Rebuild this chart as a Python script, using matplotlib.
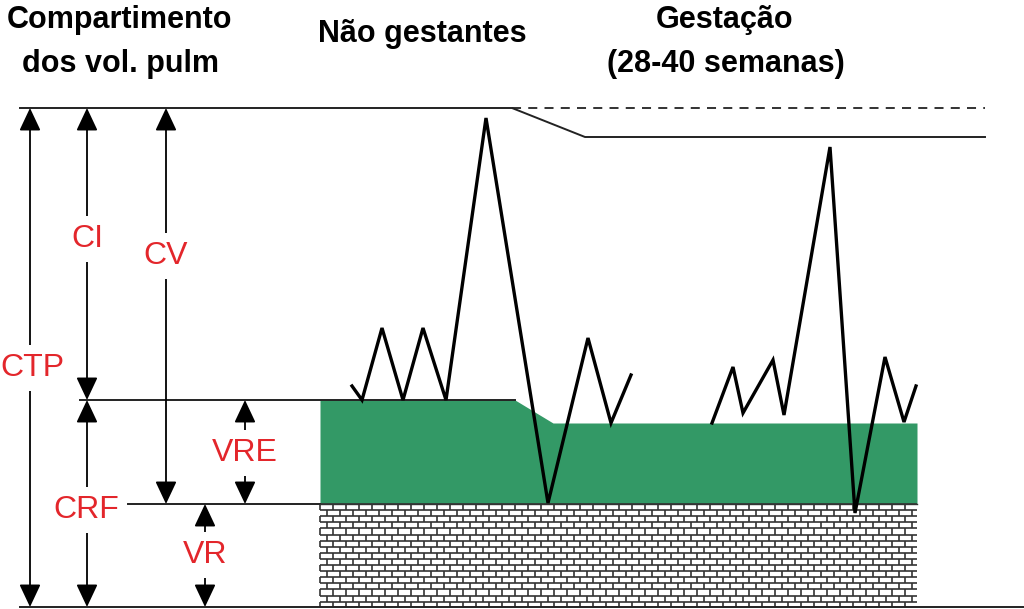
import numpy as np
import matplotlib
matplotlib.use("Agg")
import matplotlib.pyplot as plt
from matplotlib.collections import LineCollection

# titles
col_title = ["Compartimento", "dos vol. pulm"]
ng_title = "Não gestantes"
gest_title = ["Gestação", "(28-40 semanas)"]

# lung volume levels (pixel rows of the drawing)
level_tlc = 108          # top, non pregnant
level_tlc_preg = 137     # top, pregnant
level_frc = 400          # FRC, non pregnant
level_frc_preg = 423     # FRC, pregnant
level_rv = 504           # residual volume
level_zero = 607         # bottom

# spirometer traces (x, y)
trace1_x = [352, 362, 382, 403, 423, 446, 486, 548, 588, 611, 631]
trace1_y = [386, 400, 328, 400, 328, 400, 118, 503, 338, 423, 375]
trace2_x = [712, 733, 743, 773, 784, 830, 855, 885, 904, 916]
trace2_y = [423, 367, 413, 360, 415, 147, 513, 357, 422, 386]

# compartment arrows: label, x, y top, y bottom, label baseline
arrow_labels = ["CTP", "CI", "CV", "CRF", "VRE", "VR"]
arrow_x = [30, 87, 166, 87, 245, 205]
label_x = [32, 87, 166, 86, 245, 205]
arrow_top = [level_tlc, level_tlc, level_tlc, level_frc, level_frc, level_rv]
arrow_bot = [level_zero, level_frc, level_rv, level_zero, level_rv, level_zero]
label_base = [376, 247, 264, 518, 461, 563]

green = "#339966"
red = "#e3262b"

fig = plt.figure(figsize=(10.24, 6.09), dpi=100)
ax = fig.add_axes([0, 0, 1, 1])
ax.set_xlim(0, 1024)
ax.set_ylim(609, 0)
ax.axis("off")

# green region (ERV)
gx = [320, 515, 553, 917]
gtop = [level_frc, level_frc, level_frc_preg, level_frc_preg]
ax.fill_between(gx, gtop, level_rv, color=green, lw=0, zorder=1)

# brick region (RV)
segs = []
row_h = 6.1
brick_w = 13
ys = np.arange(level_rv, level_zero + 0.1, row_h)
for i, y0 in enumerate(ys):
    segs.append([(320, y0), (917, y0)])
    y1 = min(y0 + row_h, level_zero)
    if y1 <= y0:
        continue
    off = 0 if i % 2 == 0 else brick_w / 2
    for xv in np.arange(320 + off, 918, brick_w):
        segs.append([(xv, y0), (xv, y1)])
ax.add_collection(LineCollection(segs, colors="#333333", linewidths=1.2, zorder=1))

# level lines
lk = dict(color="#222222", lw=1.4, zorder=2)
ax.plot([20, 512, 585, 985], [level_tlc, level_tlc, level_tlc_preg, level_tlc_preg], **lk)
ax.plot([512, 985], [level_tlc, level_tlc], color="#222222", lw=1.3, ls=(0, (5, 4)), zorder=2)
ax.plot([80, 515], [level_frc, level_frc], **lk)
ax.plot([128, 320], [level_rv, level_rv], **lk)
ax.plot([320, 917], [level_rv, level_rv], color="#333333", lw=1.0, zorder=2)
ax.plot([20, 1024], [level_zero, level_zero], **lk)

# traces
ax.plot(trace1_x, trace1_y, color="black", lw=2.4, solid_joinstyle="miter", zorder=4)
ax.plot(trace2_x, trace2_y, color="black", lw=2.4, solid_joinstyle="miter", zorder=4)

# arrows + labels
for lab, x, lx, yt, yb, yl in zip(arrow_labels, arrow_x, label_x, arrow_top, arrow_bot, label_base):
    ax.annotate("", xy=(x, yt), xytext=(x, yb),
                arrowprops=dict(arrowstyle="<|-|>,head_length=1.0,head_width=0.47",
                                mutation_scale=14, color="black", lw=1.3,
                                shrinkA=0, shrinkB=0), zorder=3)
    ax.text(lx, yl, lab, color=red, fontsize=23, family=["Liberation Sans", "DejaVu Sans"],
            ha="center", va="baseline", zorder=5,
            bbox=dict(facecolor="white", edgecolor="none", pad=6))

# titles
tk = dict(fontsize=22, fontweight="bold", family=["Liberation Sans", "DejaVu Sans"],
          ha="center", va="baseline", color="black")
ax.text(120, 28, col_title[0], **tk)
ax.text(120, 72, col_title[1], **tk)
ax.text(422, 42, ng_title, **tk)
ax.text(725, 28, gest_title[0], **tk)
ax.text(726, 72, gest_title[1], **tk)

fig.savefig("out.png", dpi=100)
